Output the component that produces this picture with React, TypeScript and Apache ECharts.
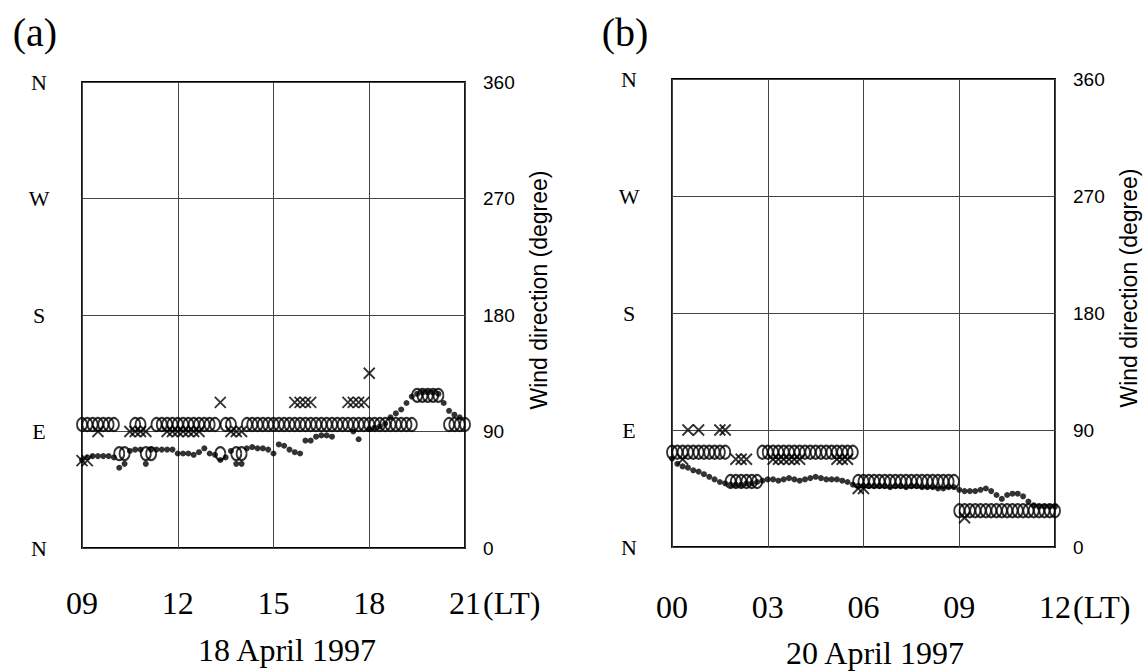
import React, { useEffect, useRef } from "react";
import * as echarts from "echarts";

const N = null;
const STEP_H = 1 / 6; // 10-minute sampling

const A_START = 9;
const A_END = 21;
const B_START = 0;
const B_END = 12;
const A_TICKS = ["09", "12", "15", "18", "21"];
const B_TICKS = ["00", "03", "06", "09", "12"];
const DIR_LABELS = ["N", "E", "S", "W", "N"];
const AXIS_NAME = "Wind direction (degree)";
const A_DATE = "18 April 1997";
const B_DATE = "20 April 1997";

// Panel (a) 18 April 1997, 09-21 LT, one value every 10 minutes
const aCircles = [
  90, 90, 90, 90, 90, 90, 90, 67.5, 67.5, N,
  90, 90, 67.5, 67.5, 90, 90, 90, 90, 90, 90,
  90, 90, 90, 90, 90, 90, 67.5, 90, 90, 67.5,
  67.5, 90, 90, 90, 90, 90, 90, 90, 90, 90,
  90, 90, 90, 90, 90, 90, 90, 90, 90, 90,
  90, 90, 90, 90, 90, 90, 90, 90, 90, 90,
  90, 90, 90, 112.5, 112.5, 112.5, 112.5, 112.5, N, 90,
  90, 90, 90,
];
const aCrosses = [
  67.5, 67.5, N, 90, N, N, N, N, N, 90,
  90, 90, 90, N, N, N, 90, 90, 90, 90,
  90, 90, 90, N, N, N, 112.5, N, 90, 90,
  90, N, N, N, N, N, N, N, N, N,
  112.5, 112.5, 112.5, 112.5, N, N, N, N, N, N,
  112.5, 112.5, 112.5, 112.5, 135, N, N, N, N, N,
  N, N, N, N, N, N, N, N, N, N,
  N, N, N,
];
const aDots = [
  68, 70, 71, 71, 71, 71, 70, 62, 65, 75,
  76, 76, 65, 76, 76, 76, 76, 76, 73, 73,
  73, 72, 74, 77, 73, 72, 68, 70, 75, 65,
  65, 77, 78, 77, 77, 76, 73, 80, 79, 76,
  74, 73, 83, 83, 86, 87, 87, 86, N, N,
  N, 90, 84, N, 92, 93, 94, 96, 101, 104,
  107, 112, 117, 119, 120, 120, 120, 119, 112, 106,
  103, 101, N,
];

// Panel (b) 20 April 1997, 00-12 LT
const bCircles = [
  67.5, 67.5, 67.5, 67.5, 67.5, 67.5, 67.5, 67.5, 67.5, 67.5,
  67.5, 45, 45, 45, 45, 45, 45, 67.5, 67.5, 67.5,
  67.5, 67.5, 67.5, 67.5, 67.5, 67.5, 67.5, 67.5, 67.5, 67.5,
  67.5, 67.5, 67.5, 67.5, 67.5, 45, 45, 45, 45, 45,
  45, 45, 45, 45, 45, 45, 45, 45, 45, 45,
  45, 45, 45, 45, 22.5, 22.5, 22.5, 22.5, 22.5, 22.5,
  22.5, 22.5, 22.5, 22.5, 22.5, 22.5, 22.5, 22.5, 22.5, 22.5,
  22.5, 22.5, 22.5,
];
const bCrosses = [
  N, N, 67.5, 90, N, 90, N, N, N, 90,
  90, N, 67.5, 67.5, 67.5, N, N, N, N, 67.5,
  67.5, 67.5, 67.5, 67.5, 67.5, N, N, N, N, N,
  N, 67.5, 67.5, 67.5, N, 45, 45, N, N, N,
  N, N, N, N, N, N, N, N, N, N,
  N, N, N, N, N, 22.5, N, N, N, N,
  N, N, N, N, N, N, N, N, N, N,
  N, N, N,
];
const bDots = [
  68, 64, 62, 61, 59, 58, 56, 54, 52, 50,
  49, 48, 48, 48, 49, 49, 50, 51, 52, 52,
  51, 52, 53, 52, 51, 52, 53, 54, 53, 52,
  52, 52, 51, 50, 48, 47, 47, 47, 47, 47,
  47, 46, 47, 47, 46, 47, 47, 46, 46, 46,
  45, 45, 46, 46, 44, 43, 43, 43, 44, 45,
  43, 40, 37, 40, 41, 41, 39, 35, 32, 31,
  31, 31, 31,
];

const SERIF = "'Liberation Serif', 'Times New Roman', serif";
const SANS = "'Liberation Sans', Arial, sans-serif";

function toPoints(values: (number | null)[], start: number) {
  const out: number[][] = [];
  values.forEach((v, i) => {
    if (v !== null && v !== undefined) out.push([start + i * STEP_H, v]);
  });
  return out;
}

function xAxisFor(gridIndex: number, min: number, max: number, ticks: string[], margin: number) {
  return {
    gridIndex,
    type: "value",
    min,
    max,
    interval: 3,
    axisLine: { show: false },
    axisTick: { show: false },
    splitLine: { show: true, lineStyle: { color: "#444", width: 1 } },
    axisLabel: {
      formatter: (v: number) => ticks[Math.round((v - min) / 3)] ?? "",
      fontFamily: SERIF,
      fontSize: 32,
      color: "#000",
      margin,
    },
  };
}

function leftYAxis(gridIndex: number) {
  return {
    gridIndex,
    type: "value",
    min: 0,
    max: 360,
    interval: 90,
    position: "left",
    axisLine: { show: false },
    axisTick: { show: false },
    splitLine: { show: true, lineStyle: { color: "#444", width: 1 } },
    axisLabel: {
      formatter: (v: number) => DIR_LABELS[Math.round(v / 90)] ?? "",
      align: "center",
      margin: 43,
      fontFamily: SERIF,
      fontSize: 22,
      color: "#000",
      padding: [0, 0, 8, 0],
    },
  };
}

function rightYAxis(gridIndex: number) {
  return {
    gridIndex,
    type: "value",
    min: 0,
    max: 360,
    interval: 90,
    position: "right",
    axisLine: { show: false },
    axisTick: { show: false },
    splitLine: { show: false },
    axisLabel: {
      align: "left",
      margin: 18,
      fontFamily: SANS,
      fontSize: 19,
      color: "#000",
    },
    name: AXIS_NAME,
    nameLocation: "middle",
    nameRotate: 90,
    nameGap: 62,
    nameTextStyle: {
      fontFamily: SANS,
      fontSize: 23,
      color: "#000",
      padding: [0, 0, 0, 50],
    },
  };
}

function seriesFor(idx: number, circles: any[], crosses: any[], dots: any[], start: number) {
  const common = {
    type: "scatter",
    xAxisIndex: idx,
    yAxisIndex: idx * 2,
    silent: true,
    clip: false,
  };
  return [
    {
      ...common,
      name: "circle",
      symbol: "circle",
      symbolSize: [10, 13],
      symbolOffset: [0, -7],
      itemStyle: { color: "rgba(0,0,0,0)", borderColor: "#000", borderWidth: 2 },
      data: toPoints(circles, start),
      z: 3,
    },
    {
      ...common,
      name: "cross",
      symbol: "path://M0,0L10,10M10,0L0,10",
      symbolSize: 11,
      itemStyle: { color: "rgba(0,0,0,0)", borderColor: "#000", borderWidth: 1.8 },
      data: toPoints(crosses, start),
      z: 4,
    },
    {
      ...common,
      name: "dot",
      symbol: "circle",
      symbolSize: 6,
      itemStyle: { color: "#000" },
      data: toPoints(dots, start),
      z: 5,
    },
  ];
}

export default function App() {
  const ref = useRef<HTMLDivElement>(null);

  useEffect(() => {
    if (!ref.current) return;
    const chart = echarts.init(ref.current, undefined, { renderer: "svg" });
    const option: any = {
      animation: false,
      backgroundColor: "#fff",
      grid: [
        { left: 82, top: 82, width: 383, height: 466, show: true, borderColor: "#000", borderWidth: 1.8, backgroundColor: "transparent" },
        { left: 672, top: 79, width: 383, height: 468, show: true, borderColor: "#000", borderWidth: 1.8, backgroundColor: "transparent" },
      ],
      xAxis: [
        xAxisFor(0, A_START, A_END, A_TICKS, 39),
        xAxisFor(1, B_START, B_END, B_TICKS, 44),
      ],
      yAxis: [leftYAxis(0), rightYAxis(0), leftYAxis(1), rightYAxis(1)],
      series: [
        ...seriesFor(0, aCircles, aCrosses, aDots, A_START),
        ...seriesFor(1, bCircles, bCrosses, bDots, B_START),
      ],
      graphic: [
        { type: "text", x: 35, y: 32, style: { text: "(a)", font: `40px ${SERIF}`, fill: "#000", textAlign: "center", textVerticalAlign: "middle" } },
        { type: "text", x: 625, y: 32, style: { text: "(b)", font: `40px ${SERIF}`, fill: "#000", textAlign: "center", textVerticalAlign: "middle" } },
        { type: "text", x: 483, y: 603, style: { text: "(LT)", font: `32px ${SERIF}`, fill: "#000", textAlign: "left", textVerticalAlign: "middle" } },
        { type: "text", x: 1073, y: 607, style: { text: "(LT)", font: `32px ${SERIF}`, fill: "#000", textAlign: "left", textVerticalAlign: "middle" } },
        { type: "text", x: 287, y: 650, style: { text: A_DATE, font: `32px ${SERIF}`, fill: "#000", textAlign: "center", textVerticalAlign: "middle" } },
        { type: "text", x: 875, y: 653, style: { text: B_DATE, font: `32px ${SERIF}`, fill: "#000", textAlign: "center", textVerticalAlign: "middle" } },
      ],
    };
    chart.setOption(option);
    return () => chart.dispose();
  }, []);

  return (
    <div
      ref={ref}
      style={{ position: "fixed", left: 0, top: 0, width: 1148, height: 671, background: "#fff" }}
    />
  );
}
